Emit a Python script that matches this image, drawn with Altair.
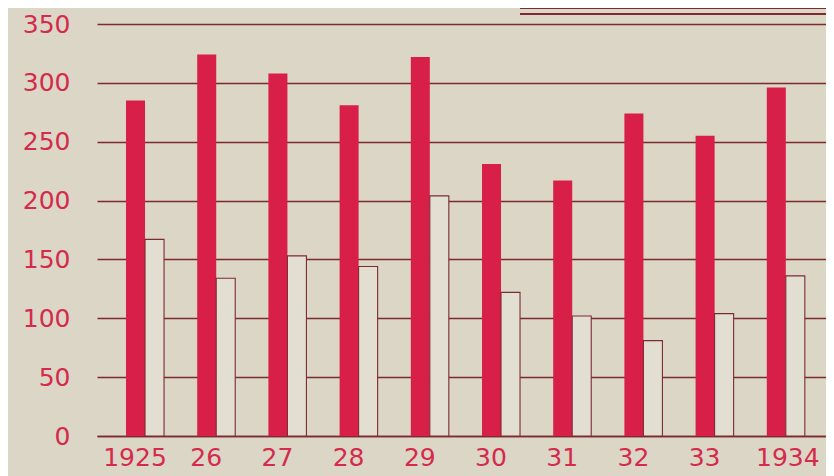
import altair as alt
import pandas as pd

years = ["1925", "26", "27", "28", "29", "30", "31", "32", "33", "1934"]
red_values = [285, 324, 308, 281, 322, 231, 217, 274, 255, 296]
white_values = [167, 134, 153, 144, 204, 122, 102, 81, 104, 136]
y_ticks = [0, 50, 100, 150, 200, 250, 300, 350]

rows = []
for yr, r, w in zip(years, red_values, white_values):
    rows.append({"year": yr, "series": "red", "value": r})
    rows.append({"year": yr, "series": "white", "value": w})
df = pd.DataFrame(rows)

BG = "#dbd6c5"
RED = "#d81f48"
LABEL = "#d42a4c"
GRID = "#7e2a33"
WHITE = "#e2dfd2"
FONT = "DejaVu Sans"

x_enc = alt.X(
    "year:N",
    sort=years,
    scale=alt.Scale(paddingInner=0.466, paddingOuter=0.3525, align=0.578),
    axis=alt.Axis(
        title=None, labelAngle=0, labelFont=FONT, labelFontSize=25,
        labelColor=LABEL, labelPadding=9,
        labelOffset={"condition": {"test": "datum.value === '1934'", "value": 2}, "value": -10},
        ticks=False, domainColor=GRID, domainWidth=1.6, grid=False,
    ),
)
y_enc = alt.Y(
    "value:Q",
    scale=alt.Scale(domain=[0, 350], nice=False),
    axis=alt.Axis(
        values=y_ticks, title=None, grid=True, gridColor=GRID, gridWidth=1.5,
        domain=False, ticks=False, labelPadding=27, labelFont=FONT,
        labelFontSize=25, labelColor=LABEL,
    ),
)
xoff = alt.XOffset("series:N", scale=alt.Scale(domain=["red", "white"], paddingInner=0, paddingOuter=0))

red_bars = alt.Chart(df).transform_filter(alt.datum.series == "red").mark_bar(
    color=RED
).encode(x=x_enc, y=y_enc, xOffset=xoff)

white_bars = alt.Chart(df).transform_filter(alt.datum.series == "white").mark_bar(
    fill=WHITE, stroke=GRID, strokeWidth=1.1
).encode(x=x_enc, y=y_enc, xOffset=xoff)

title_df = pd.DataFrame({"k": [0, 1], "yy": [-16, -10]})
underline = alt.Chart(title_df).mark_rule(color=GRID, strokeWidth=1.8).encode(
    x=alt.value(423), x2=alt.value(740), y=alt.Y("yy:Q", scale=None, axis=None)
)

chart = alt.layer(red_bars, white_bars, underline).properties(
    width=729, height=412, background=BG,
    autosize=alt.AutoSizeParams(type="none"),
    padding={"left": 89, "top": 16, "right": 0, "bottom": 40},
).configure_view(stroke=None)

chart.save("out.html", embed_options={"renderer": "svg", "actions": False})
